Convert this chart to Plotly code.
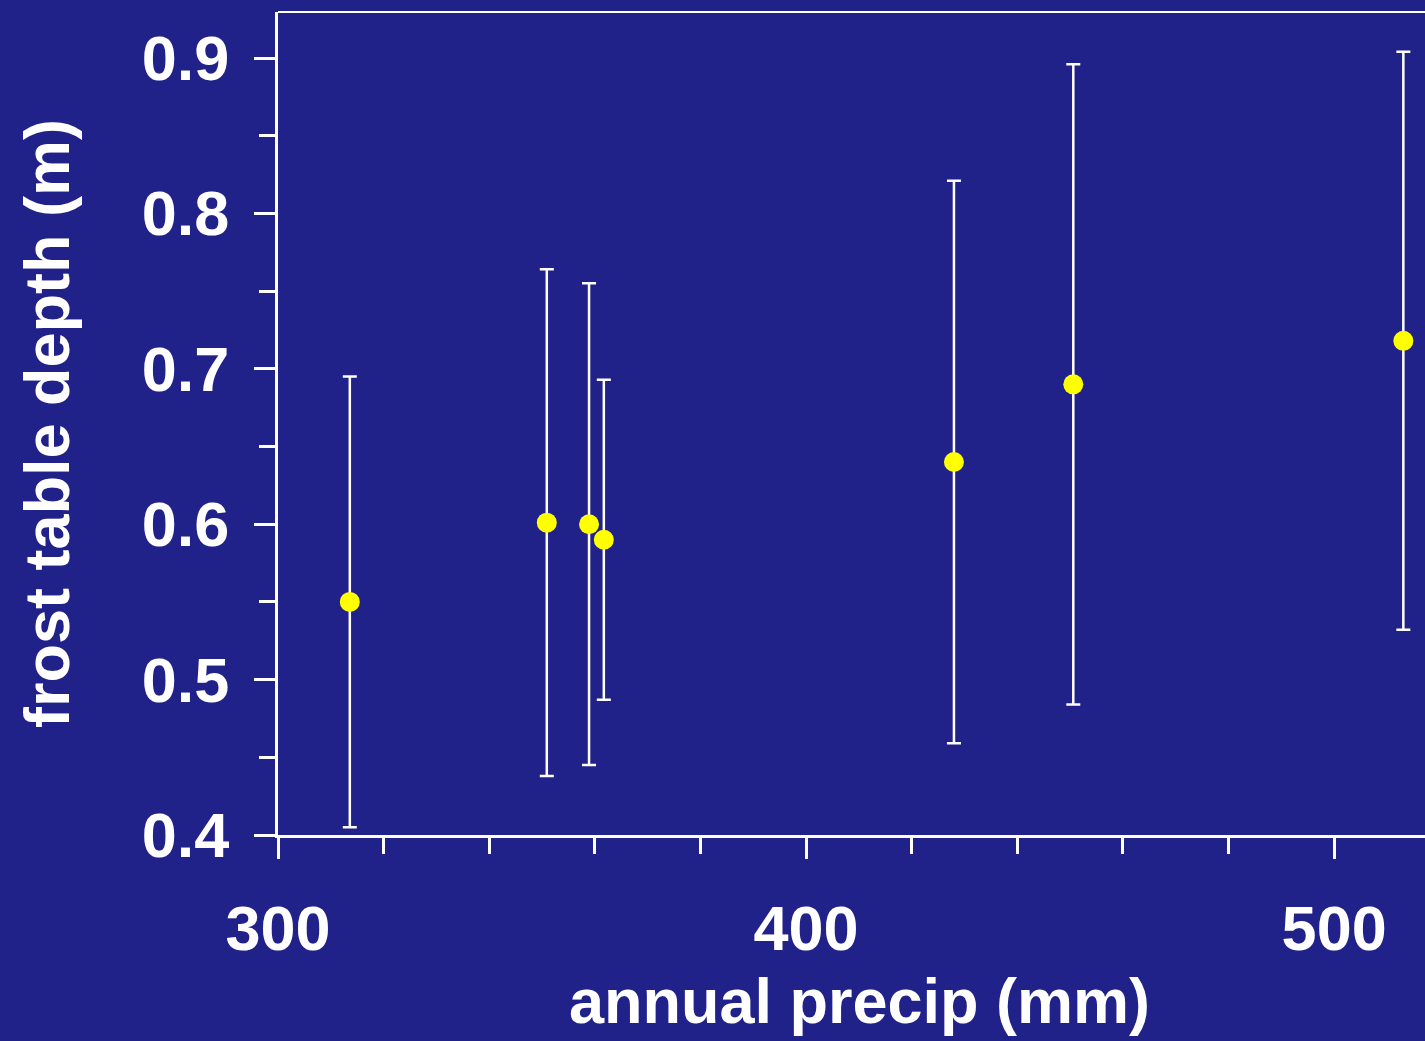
import plotly.graph_objects as go

precip = [313.6, 350.9, 358.9, 361.7, 428.0, 450.6, 513.1]
depth = [0.550, 0.601, 0.600, 0.590, 0.640, 0.690, 0.718]
err_plus = [0.145, 0.163, 0.155, 0.103, 0.181, 0.206, 0.186]
err_minus = [0.145, 0.163, 0.155, 0.103, 0.181, 0.206, 0.186]

bg = "#21218A"
font = dict(family="Liberation Sans, Arial, sans-serif", color="white")

fig = go.Figure(go.Scatter(
    x=precip, y=depth, mode="markers",
    marker=dict(color="#FFFF00", size=20, line=dict(width=0)),
    error_y=dict(type="data", array=err_plus, arrayminus=err_minus,
                 color="white", thickness=2.5, width=7),
))

fig.update_layout(
    width=1425, height=1041,
    paper_bgcolor=bg, plot_bgcolor=bg,
    margin=dict(l=278, r=0, t=12, b=206),
    showlegend=False,
    font=font,
    xaxis=dict(
        range=[300, 517.2], dtick=100, tick0=300,
        showgrid=False, zeroline=False,
        showline=True, linecolor="white", linewidth=3,
        ticks="outside", ticklen=21, tickwidth=3, tickcolor="white",
        minor=dict(dtick=20, tick0=300, ticks="outside", ticklen=16, tickwidth=3, tickcolor="white", showgrid=False),
        tickfont=dict(size=63, family="Liberation Sans, Arial", color="white", weight="bold"),
        ticklabelstandoff=15,
    ),
    yaxis=dict(
        range=[0.4, 0.9296], dtick=0.1, tick0=0.4,
        showgrid=False, zeroline=False,
        showline=True, linecolor="white", linewidth=3,
        ticks="outside", ticklen=21, tickwidth=3, tickcolor="white",
        minor=dict(dtick=0.05, tick0=0.4, ticks="outside", ticklen=16, tickwidth=3, tickcolor="white", showgrid=False),
        tickfont=dict(size=63, family="Liberation Sans, Arial", color="white", weight="bold"),
        tickformat=".1f",
        ticklabelstandoff=12,
        title=dict(text="<b>frost table depth (m)</b>", font=dict(size=63, color="white"), standoff=52),
    ),
    annotations=[dict(text="<b>annual precip (mm)</b>", xref="paper", yref="paper",
                      x=0.5074, y=-0.247, xanchor="center", yanchor="bottom",
                      showarrow=False, font=dict(size=63, color="white"))],
    shapes=[dict(type="line", xref="paper", yref="paper", x0=0, x1=1, y0=1, y1=1,
                 line=dict(color="white", width=2))],
)

fig.write_html(
    "out.html",
    config={"displayModeBar": False},
    post_script="document.body.style.margin='0';document.body.style.background='#21218A';",
)
